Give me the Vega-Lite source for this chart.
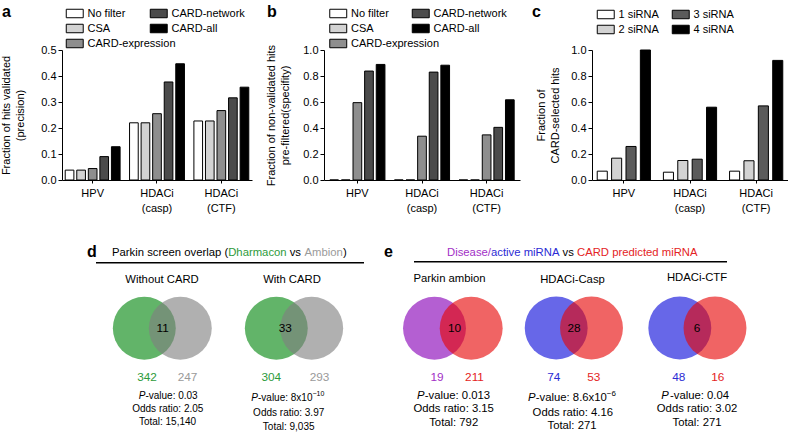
{
  "$schema": "https://vega.github.io/schema/vega-lite/v6.json",
  "padding": 0,
  "background": "white",
  "config": {
    "font": "Liberation Sans",
    "view": {"stroke": null},
    "axis": {"domainColor": "black", "domainWidth": 1, "tickColor": "black", "tickWidth": 1, "labelColor": "black", "labelFontSize": 11, "titleFontSize": 11, "titleFontWeight": "normal", "titleColor": "black", "grid": false},
    "legend": {"labelFontSize": 11, "labelColor": "black", "padding": 0, "rowPadding": 2, "columnPadding": 0, "symbolType": "M-1,-1H3V1H-1Z", "symbolSize": 72, "symbolStrokeColor": "black", "symbolStrokeWidth": 1, "labelOffset": 11.5, "orient": "none", "title": null}
  },
  "datasets": {
    "barsA": [
      {"cat": "HPV", "series": "No filter", "value": 0.038},
      {"cat": "HPV", "series": "CSA", "value": 0.038},
      {"cat": "HPV", "series": "CARD-expression", "value": 0.044},
      {"cat": "HPV", "series": "CARD-network", "value": 0.09},
      {"cat": "HPV", "series": "CARD-all", "value": 0.128},
      {"cat": "HDACi (casp)", "series": "No filter", "value": 0.22},
      {"cat": "HDACi (casp)", "series": "CSA", "value": 0.22},
      {"cat": "HDACi (casp)", "series": "CARD-expression", "value": 0.255},
      {"cat": "HDACi (casp)", "series": "CARD-network", "value": 0.377},
      {"cat": "HDACi (casp)", "series": "CARD-all", "value": 0.447},
      {"cat": "HDACi (CTF)", "series": "No filter", "value": 0.227},
      {"cat": "HDACi (CTF)", "series": "CSA", "value": 0.227},
      {"cat": "HDACi (CTF)", "series": "CARD-expression", "value": 0.267},
      {"cat": "HDACi (CTF)", "series": "CARD-network", "value": 0.316},
      {"cat": "HDACi (CTF)", "series": "CARD-all", "value": 0.357}
    ],
    "barsB": [
      {"cat": "HPV", "series": "No filter", "value": 0},
      {"cat": "HPV", "series": "CSA", "value": 0},
      {"cat": "HPV", "series": "CARD-expression", "value": 0.595},
      {"cat": "HPV", "series": "CARD-network", "value": 0.838},
      {"cat": "HPV", "series": "CARD-all", "value": 0.889},
      {"cat": "HDACi (casp)", "series": "No filter", "value": 0},
      {"cat": "HDACi (casp)", "series": "CSA", "value": 0},
      {"cat": "HDACi (casp)", "series": "CARD-expression", "value": 0.337},
      {"cat": "HDACi (casp)", "series": "CARD-network", "value": 0.83},
      {"cat": "HDACi (casp)", "series": "CARD-all", "value": 0.883},
      {"cat": "HDACi (CTF)", "series": "No filter", "value": 0},
      {"cat": "HDACi (CTF)", "series": "CSA", "value": 0},
      {"cat": "HDACi (CTF)", "series": "CARD-expression", "value": 0.347},
      {"cat": "HDACi (CTF)", "series": "CARD-network", "value": 0.405},
      {"cat": "HDACi (CTF)", "series": "CARD-all", "value": 0.617}
    ],
    "barsC": [
      {"cat": "HPV", "series": "1 siRNA", "value": 0.068},
      {"cat": "HPV", "series": "2 siRNA", "value": 0.168},
      {"cat": "HPV", "series": "3 siRNA", "value": 0.258},
      {"cat": "HPV", "series": "4 siRNA", "value": 1.0},
      {"cat": "HDACi (casp)", "series": "1 siRNA", "value": 0.06},
      {"cat": "HDACi (casp)", "series": "2 siRNA", "value": 0.15},
      {"cat": "HDACi (casp)", "series": "3 siRNA", "value": 0.16},
      {"cat": "HDACi (casp)", "series": "4 siRNA", "value": 0.56},
      {"cat": "HDACi (CTF)", "series": "1 siRNA", "value": 0.068},
      {"cat": "HDACi (CTF)", "series": "2 siRNA", "value": 0.148},
      {"cat": "HDACi (CTF)", "series": "3 siRNA", "value": 0.57},
      {"cat": "HDACi (CTF)", "series": "4 siRNA", "value": 0.92}
    ],
    "venn": [
      {"panel": "Without CARD", "set": "Dharmacon", "side": "A", "x": 142.3, "y": 328.3},
      {"panel": "Without CARD", "set": "Ambion", "side": "B", "x": 178.3, "y": 328.3},
      {"panel": "With CARD", "set": "Dharmacon", "side": "A", "x": 274.3, "y": 328.3},
      {"panel": "With CARD", "set": "Ambion", "side": "B", "x": 309.7, "y": 328.3},
      {"panel": "Parkin ambion", "set": "Disease", "side": "A", "x": 432.5, "y": 328.3},
      {"panel": "Parkin ambion", "set": "CARD", "side": "B", "x": 469.2, "y": 328.3},
      {"panel": "HDACi-Casp", "set": "active", "side": "A", "x": 554.2, "y": 328},
      {"panel": "HDACi-Casp", "set": "CARD", "side": "B", "x": 589.5, "y": 328},
      {"panel": "HDACi-CTF", "set": "active", "side": "A", "x": 677.8, "y": 328},
      {"panel": "HDACi-CTF", "set": "CARD", "side": "B", "x": 713, "y": 328}
    ],
    "lines": [
      {"x": 94, "x2": 362, "y": 262.7},
      {"x": 412, "x2": 725, "y": 261.7}
    ],
    "anchor": [{"x": 1, "y": 1}],
    "txt": [
      {"kind": "letter", "set": "none", "x": 0, "y": 17, "text": "a"},
      {"kind": "letter", "set": "none", "x": 265, "y": 17, "text": "b"},
      {"kind": "letter", "set": "none", "x": 530, "y": 17, "text": "c"},
      {"kind": "letter", "set": "none", "x": 85, "y": 257, "text": "d"},
      {"kind": "letter", "set": "none", "x": 382, "y": 257, "text": "e"},
      {"kind": "seg", "set": "none", "x": 110, "y": 253, "text": "Parkin screen overlap ("},
      {"kind": "seg", "set": "Dharmacon", "x": 226.2, "y": 253, "text": "Dharmacon"},
      {"kind": "seg", "set": "none", "x": 287.7, "y": 253, "text": "vs"},
      {"kind": "seg", "set": "Ambion", "x": 302.5, "y": 253, "text": "Ambion"},
      {"kind": "seg", "set": "none", "x": 341, "y": 253, "text": ")"},
      {"kind": "seg", "set": "Disease", "x": 445, "y": 253, "text": "Disease/"},
      {"kind": "seg", "set": "active", "x": 489, "y": 253, "text": "active miRNA"},
      {"kind": "seg", "set": "none", "x": 560.5, "y": 253, "text": "vs"},
      {"kind": "seg", "set": "CARD", "x": 575, "y": 253, "text": "CARD predicted miRNA"},
      {"kind": "title", "set": "none", "x": 160, "y": 280, "text": "Without CARD"},
      {"kind": "title", "set": "none", "x": 290, "y": 280, "text": "With CARD"},
      {"kind": "title", "set": "none", "x": 447.5, "y": 278.5, "text": "Parkin ambion"},
      {"kind": "title", "set": "none", "x": 570.5, "y": 280, "text": "HDACi-Casp"},
      {"kind": "title", "set": "none", "x": 695, "y": 278, "text": "HDACi-CTF"},
      {"kind": "count", "set": "none", "x": 160.7, "y": 328.3, "text": "11"},
      {"kind": "count", "set": "none", "x": 283.3, "y": 328.3, "text": "33"},
      {"kind": "count", "set": "none", "x": 452.5, "y": 328.3, "text": "10"},
      {"kind": "count", "set": "none", "x": 572, "y": 328.3, "text": "28"},
      {"kind": "count", "set": "none", "x": 695, "y": 328.3, "text": "6"},
      {"kind": "count", "set": "Dharmacon", "x": 145, "y": 376.7, "text": "342"},
      {"kind": "count", "set": "Ambion", "x": 185.5, "y": 376.7, "text": "247"},
      {"kind": "count", "set": "Dharmacon", "x": 269.3, "y": 376.7, "text": "304"},
      {"kind": "count", "set": "Ambion", "x": 317.5, "y": 376.7, "text": "293"},
      {"kind": "count", "set": "Disease", "x": 435, "y": 376.7, "text": "19"},
      {"kind": "count", "set": "CARD", "x": 472.5, "y": 376.7, "text": "211"},
      {"kind": "count", "set": "active", "x": 551.7, "y": 376.7, "text": "74"},
      {"kind": "count", "set": "CARD", "x": 591.7, "y": 376.7, "text": "53"},
      {"kind": "count", "set": "active", "x": 676.7, "y": 376.7, "text": "48"},
      {"kind": "count", "set": "CARD", "x": 715.8, "y": 376.7, "text": "16"},
      {"kind": "statD", "set": "none", "x": 165.8, "y": 409, "text": "Odds ratio: 2.05"},
      {"kind": "statD", "set": "none", "x": 165.5, "y": 422.3, "text": "Total: 15,140"},
      {"kind": "statD", "set": "none", "x": 286.7, "y": 413.3, "text": "Odds ratio: 3.97"},
      {"kind": "statD", "set": "none", "x": 286.7, "y": 426.7, "text": "Total: 9,035"},
      {"kind": "Pd", "set": "none", "x": 136.7, "y": 395.7, "text": "P"},
      {"kind": "Pd", "set": "none", "x": 249.3, "y": 398.3, "text": "P"},
      {"kind": "restD", "set": "none", "x": 143.4, "y": 395.7, "text": "-value: 0.03"},
      {"kind": "restD", "set": "none", "x": 256, "y": 398.3, "text": "-value: 8x10"},
      {"kind": "supD", "set": "none", "x": 310.4, "y": 394.3, "text": "−10"},
      {"kind": "statE", "set": "none", "x": 451.7, "y": 409.3, "text": "Odds ratio: 3.15"},
      {"kind": "statE", "set": "none", "x": 451.7, "y": 422.7, "text": "Total: 792"},
      {"kind": "statE", "set": "none", "x": 570.8, "y": 413.3, "text": "Odds ratio: 4.16"},
      {"kind": "statE", "set": "none", "x": 570, "y": 426, "text": "Total: 271"},
      {"kind": "statE", "set": "none", "x": 695, "y": 409, "text": "Odds ratio: 3.02"},
      {"kind": "statE", "set": "none", "x": 695, "y": 422.7, "text": "Total: 271"},
      {"kind": "Pe", "set": "none", "x": 415, "y": 396, "text": "P"},
      {"kind": "Pe", "set": "none", "x": 526, "y": 398.3, "text": "P"},
      {"kind": "Pe", "set": "none", "x": 659.3, "y": 395.7, "text": "P"},
      {"kind": "restE", "set": "none", "x": 422.8, "y": 396, "text": "-value: 0.013"},
      {"kind": "restE", "set": "none", "x": 533.8, "y": 398.3, "text": "-value: 8.6x10"},
      {"kind": "restE", "set": "none", "x": 668, "y": 395.7, "text": "-value: 0.04"},
      {"kind": "supE", "set": "none", "x": 604.8, "y": 393.8, "text": "−6"}
    ]
  },
  "resolve": {"scale": {"xOffset": "independent", "fill": "independent", "color": "independent"}, "legend": {"fill": "independent"}},
  "concat": [
    {
      "width": 190,
      "height": 130,
      "data": {"name": "barsA"},
      "encoding": {
        "x": {"field": "cat", "type": "nominal", "scale": {"domain": ["HPV", "HDACi (casp)", "HDACi (CTF)"], "paddingInner": 0.147, "paddingOuter": 0.05},
              "axis": {"title": null, "labelAngle": 0, "labelExpr": "split(datum.label, ' ')", "tickSize": 3, "labelPadding": 4, "labelLineHeight": 15}},
        "xOffset": {"field": "series", "type": "nominal", "scale": {"domain": ["No filter", "CSA", "CARD-expression", "CARD-network", "CARD-all"], "paddingInner": 0.25, "paddingOuter": 0}},
        "y": {"field": "value", "type": "quantitative", "scale": {"domain": [0, 0.5], "nice": false},
              "axis": {"values": [0, 0.1, 0.2, 0.3, 0.4, 0.5], "format": ".1f", "title": ["Fraction of hits validated", "(precision)"], "titlePadding": 15, "titleLineHeight": 14, "tickSize": 4, "labelPadding": 2}}
      },
      "layer": [
        {"transform": [{"filter": {"field": "series", "oneOf": ["No filter", "CSA", "CARD-expression"]}}],
         "mark": {"type": "bar", "stroke": "black", "strokeWidth": 1},
         "encoding": {"fill": {"field": "series", "type": "nominal", "scale": {"domain": ["No filter", "CSA", "CARD-expression"], "range": ["#ffffff", "#d3d3d3", "#8e8e8e"]}, "legend": {"orient": "none", "legendX": 3, "legendY": -42}}}},
        {"transform": [{"filter": {"field": "series", "oneOf": ["CARD-network", "CARD-all"]}}],
         "mark": {"type": "bar", "stroke": "black", "strokeWidth": 1},
         "encoding": {"fill": {"field": "series", "type": "nominal", "scale": {"domain": ["CARD-network", "CARD-all"], "range": ["#4b4b4b", "#000000"]}, "legend": {"orient": "none", "legendX": 87, "legendY": -42}}}}
      ],
      "resolve": {"scale": {"fill": "independent"}, "legend": {"fill": "independent"}}
    },
    {
      "width": 196,
      "height": 130,
      "data": {"name": "barsB"},
      "encoding": {
        "x": {"field": "cat", "type": "nominal", "scale": {"domain": ["HPV", "HDACi (casp)", "HDACi (CTF)"], "paddingInner": 0.147, "paddingOuter": 0.09},
              "axis": {"title": null, "labelAngle": 0, "labelExpr": "split(datum.label, ' ')", "tickSize": 3, "labelPadding": 4, "labelLineHeight": 15}},
        "xOffset": {"field": "series", "type": "nominal", "scale": {"domain": ["No filter", "CSA", "CARD-expression", "CARD-network", "CARD-all"], "paddingInner": 0.25, "paddingOuter": 0}},
        "y": {"field": "value", "type": "quantitative", "scale": {"domain": [0, 1], "nice": false},
              "axis": {"values": [0, 0.2, 0.4, 0.6, 0.8, 1.0], "format": ".1f", "title": ["Fraction of non-validated hits", "pre-filtered(specifity)"], "titlePadding": 12, "titleLineHeight": 14, "tickSize": 4, "labelPadding": 2}}
      },
      "layer": [
        {"transform": [{"filter": {"field": "series", "oneOf": ["No filter", "CSA", "CARD-expression"]}}],
         "mark": {"type": "bar", "stroke": "black", "strokeWidth": 1},
         "encoding": {"fill": {"field": "series", "type": "nominal", "scale": {"domain": ["No filter", "CSA", "CARD-expression"], "range": ["#ffffff", "#d3d3d3", "#8e8e8e"]}, "legend": {"orient": "none", "legendX": 4.5, "legendY": -42}}}},
        {"transform": [{"filter": {"field": "series", "oneOf": ["CARD-network", "CARD-all"]}}],
         "mark": {"type": "bar", "stroke": "black", "strokeWidth": 1},
         "encoding": {"fill": {"field": "series", "type": "nominal", "scale": {"domain": ["CARD-network", "CARD-all"], "range": ["#4b4b4b", "#000000"]}, "legend": {"orient": "none", "legendX": 87, "legendY": -42}}}}
      ],
      "resolve": {"scale": {"fill": "independent"}, "legend": {"fill": "independent"}}
    },
    {
      "width": 196,
      "height": 130,
      "data": {"name": "barsC"},
      "encoding": {
        "x": {"field": "cat", "type": "nominal", "scale": {"domain": ["HPV", "HDACi (casp)", "HDACi (CTF)"], "paddingInner": 0.196, "paddingOuter": 0.079},
              "axis": {"title": null, "labelAngle": 0, "labelExpr": "split(datum.label, ' ')", "tickSize": 3, "labelPadding": 4, "labelLineHeight": 15}},
        "xOffset": {"field": "series", "type": "nominal", "scale": {"domain": ["1 siRNA", "2 siRNA", "3 siRNA", "4 siRNA"], "paddingInner": 0.3, "paddingOuter": 0}},
        "y": {"field": "value", "type": "quantitative", "scale": {"domain": [0, 1], "nice": false},
              "axis": {"values": [0, 0.2, 0.4, 0.6, 0.8, 1.0], "format": ".1f", "title": ["Fraction of", "CARD-selected hits"], "titlePadding": 10, "titleLineHeight": 14, "tickSize": 4, "labelPadding": 2}}
      },
      "layer": [
        {"transform": [{"filter": {"field": "series", "oneOf": ["1 siRNA", "2 siRNA"]}}],
         "mark": {"type": "bar", "stroke": "black", "strokeWidth": 1},
         "encoding": {"fill": {"field": "series", "type": "nominal", "scale": {"domain": ["1 siRNA", "2 siRNA"], "range": ["#ffffff", "#d3d3d3"]}, "legend": {"orient": "none", "legendX": 4, "legendY": -41}}}},
        {"transform": [{"filter": {"field": "series", "oneOf": ["3 siRNA", "4 siRNA"]}}],
         "mark": {"type": "bar", "stroke": "black", "strokeWidth": 1},
         "encoding": {"fill": {"field": "series", "type": "nominal", "scale": {"domain": ["3 siRNA", "4 siRNA"], "range": ["#5b5b5b", "#000000"]}, "legend": {"orient": "none", "legendX": 79, "legendY": -41}}}}
      ],
      "resolve": {"scale": {"fill": "independent"}, "legend": {"fill": "independent"}}
    },
    {
      "width": 190,
      "height": 233,
      "encoding": {
        "x": {"field": "x", "type": "quantitative", "scale": {"domain": [60, 250], "nice": false, "zero": false}, "axis": null},
        "y": {"field": "y", "type": "quantitative", "scale": {"domain": [200, 433], "nice": false, "zero": false, "reverse": true}, "axis": null}
      },
      "layer": [
        {"data": {"name": "anchor"}, "mark": {"type": "point", "filled": true, "size": 4, "opacity": 0, "strokeWidth": 0}},
        {"data": {"name": "venn"}, "transform": [{"filter": "datum.side == 'A'"}],
         "mark": {"type": "point", "shape": "circle", "filled": true, "size": 3960, "opacity": 1, "strokeWidth": 0},
         "encoding": {"fill": {"field": "set", "type": "nominal", "scale": {"domain": ["Dharmacon", "Ambion", "Disease", "active", "CARD"], "range": ["#62b469", "#808080", "#b45fd2", "#6767e8", "#e70505"]}, "legend": null}}},
        {"data": {"name": "venn"}, "transform": [{"filter": "datum.side == 'B'"}],
         "mark": {"type": "point", "shape": "circle", "filled": true, "size": 3960, "opacity": 0.62, "strokeWidth": 0},
         "encoding": {"fill": {"field": "set", "type": "nominal", "scale": {"domain": ["Dharmacon", "Ambion", "Disease", "active", "CARD"], "range": ["#62b469", "#808080", "#b45fd2", "#6767e8", "#e70505"]}, "legend": null}}},
        {"data": {"name": "lines"}, "mark": {"type": "rule", "color": "black", "strokeWidth": 1.5},
         "encoding": {"x2": {"field": "x2"}}},
        {"data": {"name": "txt"}, "transform": [{"filter": "datum.kind == 'letter'"}],
         "mark": {"type": "text", "align": "left", "baseline": "alphabetic", "fontSize": 16, "fontWeight": "bold"},
         "encoding": {"text": {"field": "text"}, "color": {"field": "set", "type": "nominal", "scale": {"domain": ["none", "Dharmacon", "Ambion", "Disease", "active", "CARD"], "range": ["#000000", "#2e9b3b", "#9a9a9a", "#a22fc6", "#2b2bd4", "#e42424"]}, "legend": null}}},
        {"data": {"name": "txt"}, "transform": [{"filter": "datum.kind == 'seg'"}],
         "mark": {"type": "text", "align": "left", "baseline": "middle", "fontSize": 11.3},
         "encoding": {"text": {"field": "text"}, "color": {"field": "set", "type": "nominal", "scale": {"domain": ["none", "Dharmacon", "Ambion", "Disease", "active", "CARD"], "range": ["#000000", "#2e9b3b", "#9a9a9a", "#a22fc6", "#2b2bd4", "#e42424"]}, "legend": null}}},
        {"data": {"name": "txt"}, "transform": [{"filter": "datum.kind == 'title' || datum.kind == 'statE'"}],
         "mark": {"type": "text", "align": "center", "baseline": "middle", "fontSize": 11.3},
         "encoding": {"text": {"field": "text"}, "color": {"field": "set", "type": "nominal", "scale": {"domain": ["none", "Dharmacon", "Ambion", "Disease", "active", "CARD"], "range": ["#000000", "#2e9b3b", "#9a9a9a", "#a22fc6", "#2b2bd4", "#e42424"]}, "legend": null}}},
        {"data": {"name": "txt"}, "transform": [{"filter": "datum.kind == 'count'"}],
         "mark": {"type": "text", "align": "center", "baseline": "middle", "fontSize": 11.8},
         "encoding": {"text": {"field": "text"}, "color": {"field": "set", "type": "nominal", "scale": {"domain": ["none", "Dharmacon", "Ambion", "Disease", "active", "CARD"], "range": ["#000000", "#2e9b3b", "#9a9a9a", "#a22fc6", "#2b2bd4", "#e42424"]}, "legend": null}}},
        {"data": {"name": "txt"}, "transform": [{"filter": "datum.kind == 'statD'"}],
         "mark": {"type": "text", "align": "center", "baseline": "middle", "fontSize": 10},
         "encoding": {"text": {"field": "text"}, "color": {"field": "set", "type": "nominal", "scale": {"domain": ["none", "Dharmacon", "Ambion", "Disease", "active", "CARD"], "range": ["#000000", "#2e9b3b", "#9a9a9a", "#a22fc6", "#2b2bd4", "#e42424"]}, "legend": null}}},
        {"data": {"name": "txt"}, "transform": [{"filter": "datum.kind == 'Pd'"}],
         "mark": {"type": "text", "align": "left", "baseline": "middle", "fontSize": 10, "fontStyle": "italic"},
         "encoding": {"text": {"field": "text"}, "color": {"field": "set", "type": "nominal", "scale": {"domain": ["none", "Dharmacon", "Ambion", "Disease", "active", "CARD"], "range": ["#000000", "#2e9b3b", "#9a9a9a", "#a22fc6", "#2b2bd4", "#e42424"]}, "legend": null}}},
        {"data": {"name": "txt"}, "transform": [{"filter": "datum.kind == 'restD'"}],
         "mark": {"type": "text", "align": "left", "baseline": "middle", "fontSize": 10},
         "encoding": {"text": {"field": "text"}, "color": {"field": "set", "type": "nominal", "scale": {"domain": ["none", "Dharmacon", "Ambion", "Disease", "active", "CARD"], "range": ["#000000", "#2e9b3b", "#9a9a9a", "#a22fc6", "#2b2bd4", "#e42424"]}, "legend": null}}},
        {"data": {"name": "txt"}, "transform": [{"filter": "datum.kind == 'supD'"}],
         "mark": {"type": "text", "align": "left", "baseline": "middle", "fontSize": 7},
         "encoding": {"text": {"field": "text"}, "color": {"field": "set", "type": "nominal", "scale": {"domain": ["none", "Dharmacon", "Ambion", "Disease", "active", "CARD"], "range": ["#000000", "#2e9b3b", "#9a9a9a", "#a22fc6", "#2b2bd4", "#e42424"]}, "legend": null}}},
        {"data": {"name": "txt"}, "transform": [{"filter": "datum.kind == 'Pe'"}],
         "mark": {"type": "text", "align": "left", "baseline": "middle", "fontSize": 11.3, "fontStyle": "italic"},
         "encoding": {"text": {"field": "text"}, "color": {"field": "set", "type": "nominal", "scale": {"domain": ["none", "Dharmacon", "Ambion", "Disease", "active", "CARD"], "range": ["#000000", "#2e9b3b", "#9a9a9a", "#a22fc6", "#2b2bd4", "#e42424"]}, "legend": null}}},
        {"data": {"name": "txt"}, "transform": [{"filter": "datum.kind == 'restE'"}],
         "mark": {"type": "text", "align": "left", "baseline": "middle", "fontSize": 11.3},
         "encoding": {"text": {"field": "text"}, "color": {"field": "set", "type": "nominal", "scale": {"domain": ["none", "Dharmacon", "Ambion", "Disease", "active", "CARD"], "range": ["#000000", "#2e9b3b", "#9a9a9a", "#a22fc6", "#2b2bd4", "#e42424"]}, "legend": null}}},
        {"data": {"name": "txt"}, "transform": [{"filter": "datum.kind == 'supE'"}],
         "mark": {"type": "text", "align": "left", "baseline": "middle", "fontSize": 8},
         "encoding": {"text": {"field": "text"}, "color": {"field": "set", "type": "nominal", "scale": {"domain": ["none", "Dharmacon", "Ambion", "Disease", "active", "CARD"], "range": ["#000000", "#2e9b3b", "#9a9a9a", "#a22fc6", "#2b2bd4", "#e42424"]}, "legend": null}}}
      ]
    }
  ],
  "columns": 3,
  "align": "none",
  "bounds": "flush",
  "spacing": {"row": 20, "column": 72}
}
